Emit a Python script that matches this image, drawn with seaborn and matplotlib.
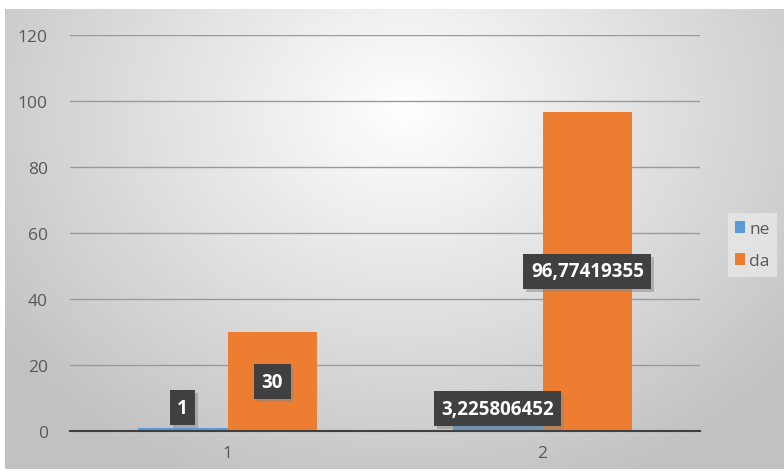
import numpy as np
import pandas as pd
import seaborn as sns
import matplotlib
matplotlib.use("Agg")
import matplotlib.pyplot as plt
import matplotlib.patheffects as pe

# data
categories = ["1", "2"]
series_names = ["ne", "da"]
ne_values = [1, 3.225806452]
da_values = [30, 96.77419355]
value_labels_ne = ["1", "3,225806452"]
value_labels_da = ["30", "96,77419355"]
y_ticks = [0, 20, 40, 60, 80, 100, 120]

colors = {"ne": "#5B9BD5", "da": "#ED7D31"}
text_gray = "#595959"

df = pd.DataFrame({
    "category": categories * 2,
    "series": ["ne"] * len(categories) + ["da"] * len(categories),
    "value": ne_values + da_values,
})

sns.set_theme(style="white")
plt.rcParams["font.family"] = ["Open Sans", "DejaVu Sans"]

W, H = 784, 477
fig = plt.figure(figsize=(W / 100, H / 100), dpi=100)
fig.patch.set_facecolor("white")

# ------------------------------------------------------------------
# radial gray gradient behind the chart (Excel style)
# ------------------------------------------------------------------
bg = fig.add_axes([5 / W, 7 / H, 779 / W, 460 / H])
yy, xx = np.mgrid[0:460, 0:779]
cx, cy = 400, 100
r = np.sqrt(((xx - cx) / 520.0) ** 2 + ((yy - cy) / 420.0) ** 2)
shade = np.clip(1.0 - 0.25 * r, 0.76, 1.0)
bg.imshow(np.dstack([shade] * 3), aspect="auto", interpolation="bilinear")
bg.set_axis_off()

# ------------------------------------------------------------------
# main bar axes
# ------------------------------------------------------------------
ax = fig.add_axes([70 / W, 1 - 432 / H, 630 / W, (432 - 36) / H])
ax.set_facecolor("none")

sns.barplot(data=df, x="category", y="value", hue="series",
            order=categories, hue_order=series_names,
            palette=colors, width=0.57, saturation=1,
            linewidth=0, ax=ax, legend=True)

ax.set_xlim(-0.5, len(categories) - 0.5)
ax.set_ylim(0, 120)
ax.set_yticks(y_ticks)
ax.set_yticklabels([str(t) for t in y_ticks], color=text_gray, fontsize=12.5)
ax.yaxis.grid(True, color="#9a9a9a", linewidth=1)
ax.set_axisbelow(True)
ax.tick_params(axis="y", length=0, pad=16)
ax.set_xlabel("")
ax.set_ylabel("")

for side in ["top", "right", "left"]:
    ax.spines[side].set_visible(False)
ax.spines["bottom"].set_color("#404040")
ax.spines["bottom"].set_linewidth(1.5)

# category tick marks sit on boundaries, labels at centers
ax.set_xticks([-0.5, 0.5, 1.5], minor=False)
ax.set_xticklabels(["", "", ""])
ax.tick_params(axis="x", which="major", length=5, width=1.5,
               color="#404040", direction="out")
ax.set_xticks([0, 1], minor=True)
ax.set_xticklabels(categories, minor=True, color=text_gray, fontsize=12.5)
ax.tick_params(axis="x", which="minor", length=0, pad=10)

# ------------------------------------------------------------------
# data labels: dark boxes with white bold text
# ------------------------------------------------------------------
label_pos = {
    ("ne", 0): 7.0, ("ne", 1): 6.7,
    ("da", 0): 15.0, ("da", 1): 48.4,
}
bars = [p for p in ax.patches if p.get_height() > 0]
bar_centers = {}
for s_i, s in enumerate(series_names):
    for c_i in range(len(categories)):
        p = bars[s_i * len(categories) + c_i]
        bar_centers[(s, c_i)] = p.get_x() + p.get_width() / 2

all_labels = {"ne": value_labels_ne, "da": value_labels_da}
for s in series_names:
    for c_i in range(len(categories)):
        t = ax.text(bar_centers[(s, c_i)], label_pos[(s, c_i)],
                    all_labels[s][c_i], ha="center", va="center",
                    color="white", fontsize=13.5, fontweight="bold",
                    bbox=dict(boxstyle="square,pad=0.4", fc="#404040", ec="none"),
                    zorder=5)
        t.get_bbox_patch().set_path_effects(
            [pe.SimplePatchShadow(offset=(2, -2), shadow_rgbFace="#888888", alpha=0.5),
             pe.Normal()])

# ------------------------------------------------------------------
# legend on the right
# ------------------------------------------------------------------
leg = ax.legend(loc="center left", bbox_to_anchor=(1.03, 0.47), frameon=True,
                fontsize=12.5, handlelength=0.55, handleheight=0.7,
                handletextpad=0.25, labelspacing=0.9, borderpad=0.45,
                fancybox=False)
leg.get_frame().set_facecolor("#e8e8e8")
leg.get_frame().set_edgecolor("none")
leg.get_frame().set_alpha(0.8)
for txt in leg.get_texts():
    txt.set_color(text_gray)

fig.savefig("out.png", dpi=100)
